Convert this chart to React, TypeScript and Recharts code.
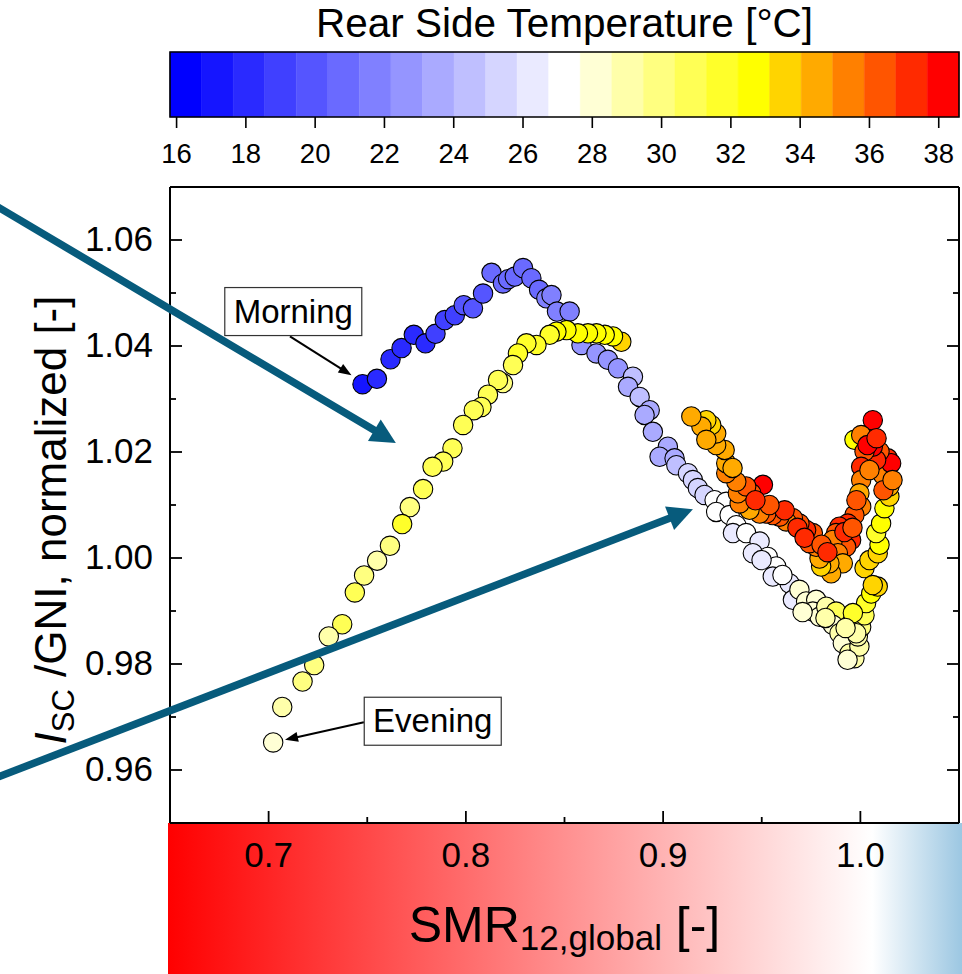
import React from 'react';
import { ScatterChart, Scatter, XAxis, YAxis, ReferenceArea, ReferenceLine, ReferenceDot } from 'recharts';

const FONT = "'Liberation Sans', Arial, Helvetica, sans-serif";

// ---- colour scale (rear side temperature) ----
const TEMP_MIN = 15.81;
const TEMP_STEP = 0.911;
const TEMP_COLORS = [
  '#0000FF', '#1515FF', '#2A2AFF', '#4040FF', '#5555FF', '#6A6AFF', '#8080FF', '#9595FF',
  '#AAAAFF', '#BFBFFF', '#D5D5FF', '#EAEAFF', '#FFFFFF', '#FFFFD5', '#FFFFAA', '#FFFF80',
  '#FFFF55', '#FFFF2A', '#FFFF00', '#FFD400', '#FFAA00', '#FF8000', '#FF5500', '#FF2A00', '#FF0000',
];
const TEMP_TICKS = [16, 18, 20, 22, 24, 26, 28, 30, 32, 34, 36, 38];
const TEMP_MAX = TEMP_MIN + TEMP_STEP * TEMP_COLORS.length;

// ---- axes ----
const SMR_DOMAIN = [0.65, 1.05];
const SMR_TICKS = [0.7, 0.75, 0.8, 0.85, 0.9, 0.95, 1.0];
const SMR_LABELLED = [0.7, 0.8, 0.9, 1.0];
const ISC_DOMAIN = [0.95, 1.07];
const ISC_TICKS = [0.96, 0.97, 0.98, 0.99, 1.0, 1.01, 1.02, 1.03, 1.04, 1.05, 1.06];
const ISC_LABELLED = [0.96, 0.98, 1.0, 1.02, 1.04, 1.06];

// ---- data: morning rise ----
const morningSmr = [0.7476, 0.7549, 0.7618, 0.7674, 0.7736, 0.7795, 0.7846, 0.7893, 0.7944, 0.7989, 0.8036, 0.8087, 0.8130, 0.8188, 0.8214, 0.8248, 0.8290, 0.8332, 0.8371, 0.8408, 0.8434, 0.8462, 0.8526];
const morningIsc = [1.0328, 1.0338, 1.0375, 1.0396, 1.0421, 1.0405, 1.0423, 1.0449, 1.0458, 1.0477, 1.0471, 1.0499, 1.0538, 1.0518, 1.0526, 1.0531, 1.0547, 1.0528, 1.0506, 1.0490, 1.0496, 1.0465, 1.0465];
const morningTemp = [17.0, 17.9, 18.0, 18.2, 18.1, 18.3, 18.8, 19.0, 19.3, 19.6, 19.8, 20.1, 20.6, 20.8, 20.9, 21.0, 20.7, 21.1, 21.2, 21.5, 21.6, 21.8, 22.0];

// ---- data: forenoon descent ----
const descentSmr = [0.8586, 0.8662, 0.8720, 0.8771, 0.8847, 0.8822, 0.8881, 0.8932, 0.8906, 0.8948, 0.9024, 0.8982, 0.9058, 0.9067, 0.9126, 0.9151, 0.9176, 0.9210, 0.9261, 0.9320, 0.9269, 0.9337, 0.9371, 0.9354, 0.9421, 0.9489, 0.9455, 0.9531, 0.9573, 0.9556, 0.9641, 0.9658, 0.9691, 0.9725, 0.9776, 0.9759, 0.9793, 0.9827, 0.9877, 0.9860, 0.9894, 0.9911, 0.9945, 0.9970, 0.9995, 0.9987, 1.0004, 1.0021, 1.0029, 1.0055, 0.9962, 0.9979, 0.9499, 0.9605, 0.9707, 0.9823, 0.9925, 0.9935];
const descentIsc = [1.0402, 1.0386, 1.0374, 1.0358, 1.0342, 1.0323, 1.0304, 1.0279, 1.0270, 1.0238, 1.0210, 1.0191, 1.0188, 1.0175, 1.0160, 1.0147, 1.0132, 1.0119, 1.0109, 1.0106, 1.0087, 1.0081, 1.0062, 1.0047, 1.0047, 1.0031, 1.0009, 1.0002, 0.9984, 0.9965, 0.9952, 0.9921, 0.9940, 0.9918, 0.9921, 0.9899, 0.9889, 0.9908, 0.9899, 0.9874, 0.9858, 0.9839, 0.9820, 0.9811, 0.9833, 0.9852, 0.9870, 0.9892, 0.9915, 0.9933, 0.9896, 0.9858, 0.9996, 0.9968, 0.9898, 0.9887, 0.9868, 0.9808];
const descentTemp = [22.3, 22.6, 22.8, 23.0, 24.5, 23.5, 24.3, 23.6, 23.4, 23.7, 23.9, 23.3, 23.8, 24.6, 25.4, 25.1, 25.0, 25.6, 27.2, 27.3, 27.0, 27.1, 27.4, 26.3, 27.2, 26.2, 26.4, 27.3, 27.0, 26.5, 26.3, 26.1, 28.0, 27.9, 28.1, 28.2, 28.3, 29.0, 30.9, 28.4, 28.8, 28.3, 28.7, 28.9, 29.1, 29.3, 29.8, 30.5, 31.6, 32.5, 32.2, 29.0, 26.5, 27.3, 28.4, 28.8, 29.1, 28.5];

// ---- data: noon / early afternoon ----
const noonSmr = [1.0021, 1.0088, 1.0063, 1.0046, 1.0088, 1.0097, 1.0080, 1.0105, 1.0122, 1.0147, 1.0147, 1.0114, 1.0139, 1.0156, 1.0097, 1.0080, 1.0063, 1.0046, 1.0063, 0.9970, 1.0004, 1.0021, 1.0004, 1.0004, 0.9995, 1.0004, 0.9970, 0.9936, 0.9894, 0.9877, 0.9953, 0.9928, 0.9860, 0.9886, 0.9911, 0.9852, 0.9843, 0.9801, 0.9793, 0.9776, 0.9742, 0.9759, 0.9725, 0.9691, 0.9658, 0.9624, 0.9590, 0.9556, 0.9523, 0.9489, 0.9506, 0.9447, 0.9421, 0.9438, 0.9388, 0.9379, 0.9421, 0.9371, 0.9320, 0.9320, 0.9312, 0.9269, 0.9269, 0.9244, 0.9219, 0.9194, 0.9219, 0.9143, 0.9681, 0.9717, 0.9803, 0.9833, 0.9919, 0.9960, 0.9980, 1.0117, 1.0163, 1.0036, 1.0082, 1.0046, 0.9616, 0.9539, 0.9468, 0.9352];
const noonIsc = [0.9981, 0.9946, 0.9949, 0.9996, 1.0009, 1.0025, 1.0047, 1.0065, 1.0094, 1.0116, 1.0135, 1.0157, 1.0188, 1.0179, 1.0201, 1.0185, 1.0210, 1.0235, 1.0260, 1.0223, 1.0232, 1.0201, 1.0172, 1.0147, 1.0122, 1.0097, 1.0081, 1.0065, 1.0059, 1.0047, 1.0034, 1.0021, 1.0034, 1.0009, 0.9990, 0.9971, 0.9990, 0.9984, 0.9999, 1.0021, 1.0028, 1.0047, 1.0053, 1.0065, 1.0075, 1.0069, 1.0078, 1.0081, 1.0084, 1.0084, 1.0138, 1.0122, 1.0109, 1.0091, 1.0103, 1.0122, 1.0135, 1.0144, 1.0160, 1.0179, 1.0204, 1.0213, 1.0235, 1.0251, 1.0260, 1.0248, 1.0223, 1.0267, 1.0057, 1.0038, 1.0025, 1.0011, 1.0049, 1.0057, 1.0109, 1.0128, 1.0147, 1.0213, 1.0226, 1.0166, 1.0090, 1.0100, 1.0109, 1.0170];
const noonTemp = [33.5, 33.6, 33.4, 33.3, 33.5, 32.8, 31.8, 32.4, 32.6, 33.4, 34.2, 35.3, 37.3, 38.2, 36.3, 37.4, 38.1, 36.5, 38.2, 32.5, 35.5, 36.6, 36.8, 35.6, 34.6, 35.8, 36.4, 36.9, 37.5, 36.5, 37.4, 36.6, 35.5, 35.4, 34.5, 34.3, 34.4, 33.6, 34.5, 35.4, 36.4, 36.5, 37.3, 36.6, 36.4, 35.6, 36.5, 36.3, 36.7, 35.8, 38.0, 36.4, 35.5, 34.7, 35.4, 35.3, 36.2, 35.5, 35.3, 34.6, 34.5, 34.4, 34.3, 33.6, 33.5, 34.2, 34.4, 34.6, 36.8, 37.0, 36.2, 37.3, 37.6, 36.1, 35.9, 36.4, 35.2, 37.8, 36.9, 35.0, 37.0, 36.0, 36.9, 34.9];

// ---- data: evening ----
const eveningSmr = [0.8788, 0.8746, 0.8704, 0.8662, 0.8619, 0.8568, 0.8510, 0.8459, 0.8425, 0.8358, 0.8307, 0.8264, 0.8239, 0.8188, 0.8163, 0.8112, 0.8079, 0.8040, 0.7986, 0.7932, 0.7885, 0.7831, 0.7783, 0.7716, 0.7677, 0.7615, 0.7550, 0.7484, 0.7437, 0.7373, 0.7305, 0.7231, 0.7172, 0.7069, 0.7023];
const eveningIsc = [1.0408, 1.0418, 1.0421, 1.0424, 1.0424, 1.0424, 1.0430, 1.0427, 1.0421, 1.0402, 1.0405, 1.0386, 1.0364, 1.0330, 1.0336, 1.0308, 1.0285, 1.0279, 1.0251, 1.0207, 1.0182, 1.0172, 1.0130, 1.0096, 1.0064, 1.0023, 0.9995, 0.9967, 0.9935, 0.9875, 0.9852, 0.9798, 0.9767, 0.9719, 0.9652];
const eveningTemp = [33.4, 32.8, 32.6, 32.5, 32.4, 32.3, 32.4, 32.3, 32.0, 31.6, 31.5, 31.4, 31.2, 30.0, 31.0, 30.8, 30.6, 30.5, 30.7, 30.9, 30.4, 30.6, 30.5, 30.2, 31.3, 30.1, 29.2, 29.8, 30.6, 30.7, 29.3, 29.6, 29.9, 29.0, 28.2];

// ---- annotations (data coordinates) ----
const TREND_ARROWS = [
  { from: [0.5588, 1.0671], to: [0.7645, 1.0217] },
  { from: [0.5588, 0.9581], to: [0.9151, 1.0092] },
];
const NOTES = [
  { text: 'Morning', box: [0.7125, 1.0465], from: [0.7108, 1.0418], to: [0.7420, 1.0345] },
  { text: 'Evening', box: [0.7832, 0.9692], from: [0.7483, 0.9690], to: [0.7083, 0.9657] },
];

const ARROW_COLOR = '#075B7C';

const toPoints = (smr: number[], isc: number[], temp: number[]) =>
  smr.map((x, i) => ({ smr: x, isc: isc[i], temp: temp[i] }));

const SEGMENTS = [
  toPoints(morningSmr, morningIsc, morningTemp),
  toPoints(descentSmr, descentIsc, descentTemp),
  toPoints(noonSmr, noonIsc, noonTemp),
  toPoints(eveningSmr, eveningIsc, eveningTemp),
];

// anchor points for the colour bar chart (one per colour block)
const COLORBAR_ANCHORS = TEMP_COLORS.map((c, i) => ({ x: TEMP_MIN + (i + 0.5) * TEMP_STEP, y: 0.5 }));

const tempColor = (t: number) => {
  let i = Math.floor((t - TEMP_MIN) / TEMP_STEP);
  if (i < 0) i = 0;
  if (i > TEMP_COLORS.length - 1) i = TEMP_COLORS.length - 1;
  return TEMP_COLORS[i];
};

const isIn = (list: number[], v: number) => list.some((t) => Math.abs(t - v) < 1e-9);

const TICK_STROKE = 1.8;

const BottomTick = (p: any) => {
  const v = p.payload.value;
  const major = isIn(SMR_LABELLED, v);
  return (
    <g>
      <line x1={p.x} x2={p.x} y1={p.y} y2={p.y - (major ? 12 : 6)} stroke="#000" strokeWidth={TICK_STROKE} />
      {major ? (
        <text x={p.x} y={p.y + 44} textAnchor="middle" fontSize={35} fontFamily={FONT} fill="#000">
          {v.toFixed(1)}
        </text>
      ) : null}
    </g>
  );
};

const TopTick = (p: any) => {
  const major = isIn(SMR_LABELLED, p.payload.value);
  return <line x1={p.x} x2={p.x} y1={p.y} y2={p.y + (major ? 12 : 6)} stroke="#000" strokeWidth={TICK_STROKE} />;
};

const LeftTick = (p: any) => {
  const v = p.payload.value;
  const major = isIn(ISC_LABELLED, v);
  return (
    <g>
      <line x1={p.x} x2={p.x + (major ? 12 : 6)} y1={p.y} y2={p.y} stroke="#000" strokeWidth={TICK_STROKE} />
      {major ? (
        <text x={p.x - 17} y={p.y + 11} textAnchor="end" fontSize={35} fontFamily={FONT} fill="#000">
          {v.toFixed(2)}
        </text>
      ) : null}
    </g>
  );
};

const RightTick = (p: any) => {
  const major = isIn(ISC_LABELLED, p.payload.value);
  return <line x1={p.x} x2={p.x - (major ? 12 : 6)} y1={p.y} y2={p.y} stroke="#000" strokeWidth={TICK_STROKE} />;
};

const YTitle = () => (
  <text transform="translate(66, 520) rotate(-90)" textAnchor="middle" fontSize={44} fontFamily={FONT} fill="#000">
    <tspan fontStyle="italic">I</tspan>
    <tspan fontSize={31} dy={8}>SC</tspan>
    <tspan dy={-8}>{' /GNI, normalized [-]'}</tspan>
  </text>
);

const XTitle = () => (
  <text x={564.5} y={941.7} textAnchor="middle" fontSize={50} fontFamily={FONT} fill="#000">
    SMR
    <tspan fontSize={35} dy={8}>12,global</tspan>
    <tspan dy={-8}>{' [-]'}</tspan>
  </text>
);

const makeArrow = (color: string, width: number, headLen: number, headHalf: number) => (p: any) => {
  const x1 = Number(p.x1), y1 = Number(p.y1), x2 = Number(p.x2), y2 = Number(p.y2);
  const dx = x2 - x1, dy = y2 - y1;
  const len = Math.hypot(dx, dy) || 1;
  const ux = dx / len, uy = dy / len;
  const bx = x2 - ux * headLen, by = y2 - uy * headLen;
  const nx = -uy, ny = ux;
  return (
    <g>
      <line x1={x1} y1={y1} x2={bx + ux * 2} y2={by + uy * 2} stroke={color} strokeWidth={width} />
      <polygon
        points={`${x2},${y2} ${bx + nx * headHalf},${by + ny * headHalf} ${bx - nx * headHalf},${by - ny * headHalf}`}
        fill={color}
      />
    </g>
  );
};

const trendArrowShape = makeArrow(ARROW_COLOR, 7.5, 25, 12.5);
const noteArrowShape = makeArrow('#000', 2, 13, 5);

const makeNoteBox = (text: string) => (p: any) => {
  const w = 137, h = 48;
  return (
    <g>
      <rect x={p.cx - w / 2} y={p.cy - h / 2} width={w} height={h} fill="#fff" stroke="#333" strokeWidth={1.2} />
      <text x={p.cx} y={p.cy + 11} textAnchor="middle" fontSize={33} fontFamily={FONT} fill="#000">
        {text}
      </text>
    </g>
  );
};

const pointShape = (p: any) => (
  <circle cx={p.cx} cy={p.cy} r={9.7} fill={tempColor(p.payload.temp)} stroke="#000" strokeWidth={1.1} />
);

const emptyShape = () => <g />;

const ColorBar = () => (
  <ScatterChart width={962} height={180} margin={{ top: 52, left: 170, right: 3, bottom: 0 }}>
    <XAxis
      type="number"
      dataKey="x"
      domain={[TEMP_MIN, TEMP_MAX]}
      ticks={TEMP_TICKS}
      interval={0}
      allowDataOverflow
      height={63}
      axisLine={false}
      tickSize={11}
      tickMargin={15}
      tickLine={{ stroke: '#000', strokeWidth: 1.6 }}
      tick={{ fontSize: 27.5, fill: '#000', fontFamily: FONT }}
    />
    <YAxis type="number" dataKey="y" domain={[0, 1]} hide />
    <Scatter data={COLORBAR_ANCHORS} shape={emptyShape} isAnimationActive={false} />
    {TEMP_COLORS.map((c, i) => (
      <ReferenceArea
        key={c}
        x1={TEMP_MIN + i * TEMP_STEP}
        x2={TEMP_MIN + (i + 1) * TEMP_STEP}
        y1={0}
        y2={1}
        fill={c}
        fillOpacity={1}
        stroke={c}
        strokeWidth={0.5}
        ifOverflow="visible"
      />
    ))}
    <ReferenceArea
      x1={TEMP_MIN}
      x2={TEMP_MAX}
      y1={0}
      y2={1}
      fill="none"
      fillOpacity={0}
      stroke="#000"
      strokeWidth={1.6}
      ifOverflow="visible"
      label={{
        value: 'Rear Side Temperature [°C]',
        position: 'top',
        offset: 15,
        fontSize: 40.5,
        fill: '#000',
        fontFamily: FONT,
      }}
    />
  </ScatterChart>
);

export default function App() {
  return (
    <div style={{ position: 'absolute', left: 0, top: 0, width: 962, height: 974, background: '#fff', overflow: 'hidden', fontFamily: FONT }}>
      <div
        style={{
          position: 'absolute',
          left: 168,
          top: 823,
          width: 794,
          height: 151,
          background: 'linear-gradient(to right, #FF0000 0%, #FFFFFF 88.7%, #9CC7E2 100%)',
        }}
      />
      <div style={{ position: 'absolute', left: 0, top: 0 }}>
        <ColorBar />
      </div>
      <div style={{ position: 'absolute', left: 0, top: 0 }}>
        <ScatterChart width={962} height={974} margin={{ top: 186, left: 0, right: 0, bottom: 0 }}>
          <XAxis
            xAxisId="b"
            type="number"
            dataKey="smr"
            orientation="bottom"
            domain={SMR_DOMAIN}
            ticks={SMR_TICKS}
            interval={0}
            allowDataOverflow
            height={151}
            tickLine={false}
            tickSize={0}
            tickMargin={0}
            tick={BottomTick}
            axisLine={{ stroke: '#000', strokeWidth: 2 }}
            label={XTitle}
          />
          <XAxis
            xAxisId="t"
            type="number"
            orientation="top"
            domain={SMR_DOMAIN}
            ticks={SMR_TICKS}
            interval={0}
            allowDataOverflow
            height={1}
            tickLine={false}
            tickSize={0}
            tickMargin={0}
            tick={TopTick}
            axisLine={{ stroke: '#000', strokeWidth: 2 }}
          />
          <YAxis
            yAxisId="l"
            type="number"
            dataKey="isc"
            orientation="left"
            domain={ISC_DOMAIN}
            ticks={ISC_TICKS}
            interval={0}
            allowDataOverflow
            width={170}
            tickLine={false}
            tickSize={0}
            tickMargin={0}
            tick={LeftTick}
            axisLine={{ stroke: '#000', strokeWidth: 2 }}
            label={YTitle}
          />
          <YAxis
            yAxisId="r"
            type="number"
            orientation="right"
            domain={ISC_DOMAIN}
            ticks={ISC_TICKS}
            interval={0}
            allowDataOverflow
            width={3}
            tickLine={false}
            tickSize={0}
            tickMargin={0}
            tick={RightTick}
            axisLine={{ stroke: '#000', strokeWidth: 2 }}
          />
          {SEGMENTS.map((seg, i) => (
            <Scatter
              key={i}
              xAxisId="b"
              yAxisId="l"
              data={seg}
              shape={pointShape}
              isAnimationActive={false}
            />
          ))}
          {TREND_ARROWS.map((a, i) => (
            <ReferenceLine
              key={`trend-${i}`}
              xAxisId="b"
              yAxisId="l"
              segment={[
                { x: a.from[0], y: a.from[1] },
                { x: a.to[0], y: a.to[1] },
              ]}
              ifOverflow="visible"
              shape={trendArrowShape}
              zIndex={900}
            />
          ))}
          {NOTES.map((n) => (
            <ReferenceLine
              key={`note-arrow-${n.text}`}
              xAxisId="b"
              yAxisId="l"
              segment={[
                { x: n.from[0], y: n.from[1] },
                { x: n.to[0], y: n.to[1] },
              ]}
              ifOverflow="visible"
              shape={noteArrowShape}
              zIndex={900}
            />
          ))}
          {NOTES.map((n) => (
            <ReferenceDot
              key={`note-box-${n.text}`}
              xAxisId="b"
              yAxisId="l"
              x={n.box[0]}
              y={n.box[1]}
              ifOverflow="visible"
              shape={makeNoteBox(n.text)}
              zIndex={900}
            />
          ))}
        </ScatterChart>
      </div>
    </div>
  );
}
